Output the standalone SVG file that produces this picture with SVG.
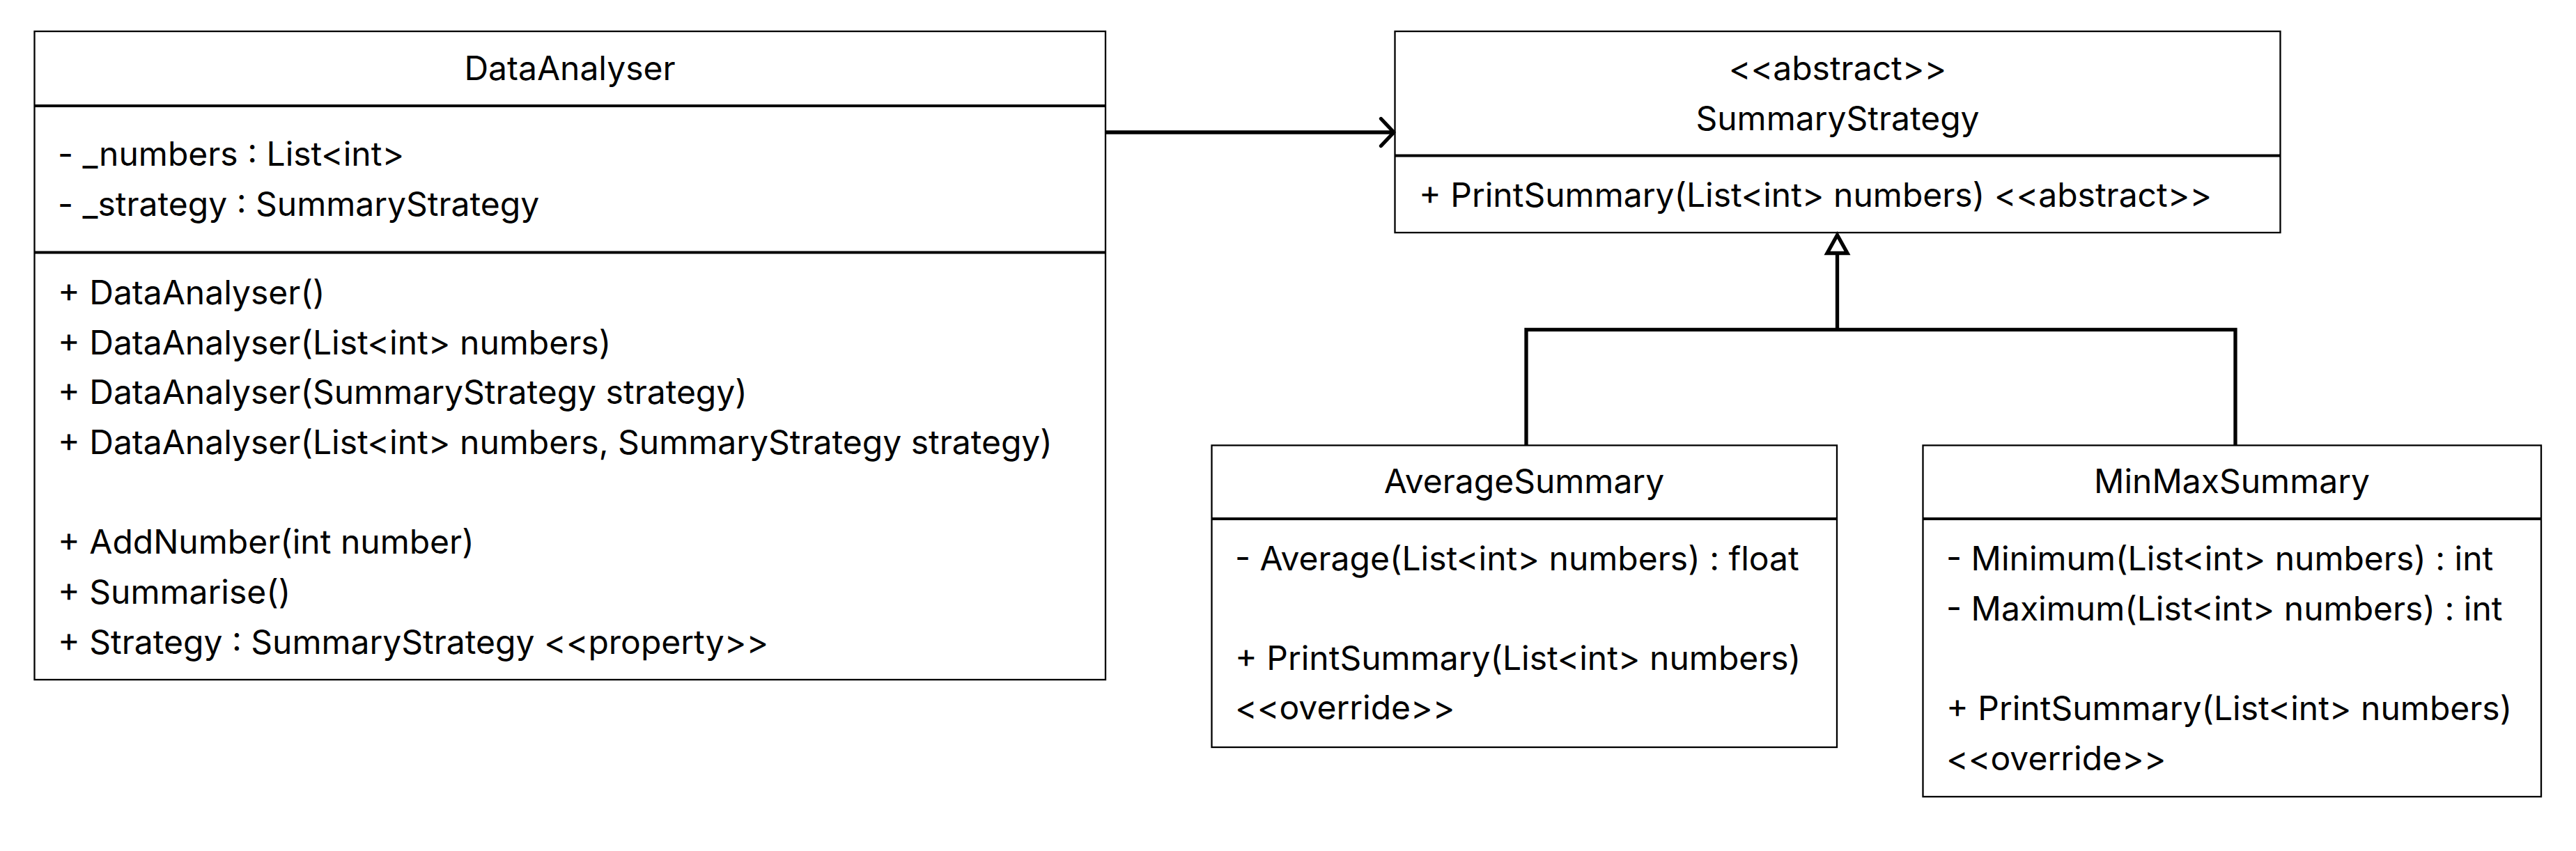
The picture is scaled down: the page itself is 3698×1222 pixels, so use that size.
<svg xmlns="http://www.w3.org/2000/svg" width="3698" height="1222" viewBox="0 0 3698 1222">
<style>
.box{fill:#fff;stroke:#000;stroke-width:2.3}
.div{stroke:#000;stroke-width:4;fill:none}
.t{font-family:Inter,"Noto Sans","Liberation Sans",sans-serif;font-size:48px;fill:#000}
.c{text-anchor:middle}
.conn{stroke:#000;stroke-width:5.3;fill:none}
</style>
<rect width="3698" height="1222" fill="#fff"/>
<g id="DataAnalyser">
<rect class="box" x="49.5" y="45" width="1537.5" height="931"/>
<line class="div" x1="49.5" y1="152" x2="1587" y2="152"/>
<line class="div" x1="49.5" y1="362.5" x2="1587" y2="362.5"/>
<text class="t c" x="818" y="115">DataAnalyser</text>
<text class="t" x="83" y="238">- _numbers : List&lt;int&gt;</text>
<text class="t" x="83" y="310">- _strategy : SummaryStrategy</text>
<text class="t" x="83" y="437">+ DataAnalyser()</text>
<text class="t" x="83" y="509">+ DataAnalyser(List&lt;int&gt; numbers)</text>
<text class="t" x="83" y="580">+ DataAnalyser(SummaryStrategy strategy)</text>
<text class="t" x="83" y="652">+ DataAnalyser(List&lt;int&gt; numbers, SummaryStrategy strategy)</text>
<text class="t" x="83" y="795">+ AddNumber(int number)</text>
<text class="t" x="83" y="867">+ Summarise()</text>
<text class="t" x="83" y="939">+ Strategy : SummaryStrategy &lt;&lt;property&gt;&gt;</text>
</g>
<g id="SummaryStrategy">
<rect class="box" x="2002.5" y="45" width="1271" height="289"/>
<line class="div" x1="2002.5" y1="223.5" x2="3273.5" y2="223.5"/>
<text class="t c" x="2638" y="115">&lt;&lt;abstract&gt;&gt;</text>
<text class="t c" x="2638" y="187">SummaryStrategy</text>
<text class="t" x="2037" y="297">+ PrintSummary(List&lt;int&gt; numbers) &lt;&lt;abstract&gt;&gt;</text>
</g>
<g id="AverageSummary">
<rect class="box" x="1739.5" y="639.5" width="897.5" height="433.5"/>
<line class="div" x1="1739.5" y1="745" x2="2637" y2="745"/>
<text class="t c" x="2188" y="708">AverageSummary</text>
<text class="t" x="1773" y="819">- Average(List&lt;int&gt; numbers) : float</text>
<text class="t" x="1773" y="962">+ PrintSummary(List&lt;int&gt; numbers)</text>
<text class="t" x="1773" y="1033">&lt;&lt;override&gt;&gt;</text>
</g>
<g id="MinMaxSummary">
<rect class="box" x="2760.5" y="639.5" width="887.5" height="504.5"/>
<line class="div" x1="2760.5" y1="745" x2="3648" y2="745"/>
<text class="t c" x="3204" y="708">MinMaxSummary</text>
<text class="t" x="2794" y="819">- Minimum(List&lt;int&gt; numbers) : int</text>
<text class="t" x="2794" y="891">- Maximum(List&lt;int&gt; numbers) : int</text>
<text class="t" x="2794" y="1034">+ PrintSummary(List&lt;int&gt; numbers)</text>
<text class="t" x="2794" y="1106">&lt;&lt;override&gt;&gt;</text>
</g>
<g id="connectors">
<line class="conn" x1="1588" y1="190" x2="2000" y2="190"/>
<polyline class="conn" points="1982.5,170.5 2001,190 1982.5,209.5" stroke-linecap="round" stroke-linejoin="round"/>
<polyline class="conn" points="2191,639 2191,473.3 3209,473.3 3209,639"/>
<line class="conn" x1="2637.5" y1="473.3" x2="2637.5" y2="363"/>
<polygon points="2637.5,337.5 2623,363.5 2652,363.5" fill="#fff" stroke="#000" stroke-width="5.3" stroke-linejoin="miter"/>
</g>
</svg>
